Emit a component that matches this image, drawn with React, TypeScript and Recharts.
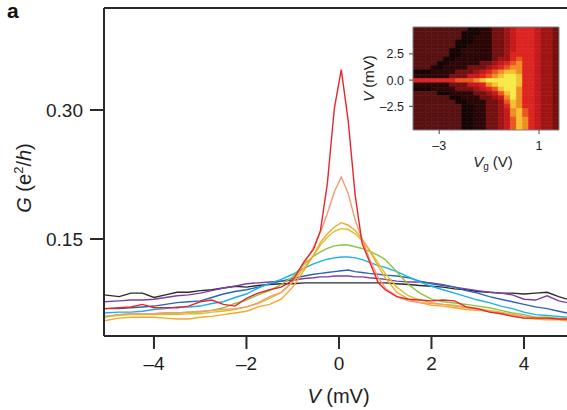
import React from 'react';
import { LineChart, Line, XAxis, YAxis, ComposedChart, ReferenceArea, ReferenceLine } from 'recharts';

// bias voltage V (mV) where the traces are sampled
const V_BIAS = [
  -5.08, -4.75, -4.5, -4.25, -4, -3.75, -3.5, -3.25, -3, -2.75, -2.5, -2.25, -2, -1.75, -1.5,
  -1.25, -1, -0.75, -0.55, -0.4, -0.25, -0.1, 0.05, 0.2, 0.35, 0.5, 0.65, 0.85, 1, 1.25, 1.5,
  1.75, 2, 2.25, 2.5, 2.75, 3, 3.25, 3.5, 3.75, 4, 4.25, 4.5, 4.75, 4.93,
];

// conductance G (e^2/h), one trace per gate voltage
const G_BLACK = [
  0.085, 0.083, 0.087, 0.087, 0.082, 0.085, 0.088, 0.088, 0.09, 0.091, 0.093, 0.095, 0.094, 0.096, 0.097,
  0.098, 0.098, 0.099, 0.099, 0.099, 0.099, 0.099, 0.099, 0.099, 0.099, 0.099, 0.099, 0.099, 0.099, 0.098, 0.097,
  0.096, 0.095, 0.094, 0.092, 0.091, 0.089, 0.088, 0.087, 0.087, 0.086, 0.087, 0.088, 0.083, 0.08,
];
const G_PURPLE = [
  0.077, 0.078, 0.079, 0.079, 0.08, 0.082, 0.084, 0.085, 0.087, 0.09, 0.093, 0.095, 0.098, 0.099, 0.1,
  0.101, 0.102, 0.104, 0.105, 0.106, 0.106, 0.107, 0.107, 0.107, 0.106, 0.106, 0.105, 0.104, 0.103, 0.101, 0.1,
  0.1, 0.099, 0.097, 0.094, 0.092, 0.09, 0.088, 0.087, 0.085, 0.08, 0.079, 0.084, 0.078, 0.076,
];
const G_BLUE = [
  0.069, 0.069, 0.07, 0.071, 0.072, 0.074, 0.076, 0.077, 0.078, 0.082, 0.086, 0.089, 0.091, 0.094, 0.098,
  0.101, 0.104, 0.107, 0.109, 0.11, 0.111, 0.112, 0.113, 0.114, 0.112, 0.111, 0.11, 0.109, 0.108, 0.107, 0.105,
  0.101, 0.098, 0.096, 0.094, 0.09, 0.087, 0.083, 0.08, 0.077, 0.074, 0.071, 0.069, 0.066, 0.064,
];
const G_CYAN = [
  0.064, 0.065, 0.065, 0.066, 0.068, 0.069, 0.071, 0.071, 0.072, 0.075, 0.077, 0.082, 0.086, 0.093, 0.098,
  0.103, 0.109, 0.116, 0.121, 0.124, 0.1265, 0.128, 0.129, 0.129, 0.128, 0.126, 0.123, 0.119, 0.117, 0.112, 0.106,
  0.1, 0.095, 0.091, 0.087, 0.083, 0.079, 0.076, 0.072, 0.069, 0.065, 0.062, 0.061, 0.06, 0.059,
];
const G_GREEN = [
  0.059, 0.062, 0.063, 0.063, 0.063, 0.064, 0.064, 0.065, 0.065, 0.067, 0.07, 0.075, 0.079, 0.085, 0.09,
  0.097, 0.106, 0.121, 0.13, 0.135, 0.139, 0.142, 0.143, 0.143, 0.141, 0.139, 0.136, 0.131, 0.126, 0.112, 0.097,
  0.087, 0.08, 0.077, 0.0756, 0.074, 0.072, 0.07, 0.067, 0.064, 0.062, 0.059, 0.059, 0.058, 0.058,
];
const G_YELLOW = [
  0.06, 0.061, 0.062, 0.062, 0.062, 0.062, 0.062, 0.063, 0.063, 0.065, 0.066, 0.068, 0.071, 0.075, 0.081,
  0.088, 0.1, 0.117, 0.131, 0.143, 0.152, 0.159, 0.162, 0.161, 0.156, 0.148, 0.138, 0.122, 0.11, 0.094, 0.084,
  0.079, 0.076, 0.074, 0.073, 0.071, 0.069, 0.067, 0.065, 0.062, 0.06, 0.058, 0.057, 0.057, 0.057,
];
const G_GOLD = [
  0.055, 0.058, 0.059, 0.059, 0.059, 0.058, 0.057, 0.057, 0.059, 0.06, 0.062, 0.064, 0.066, 0.071, 0.074,
  0.08, 0.094, 0.114, 0.131, 0.146, 0.156, 0.164, 0.169, 0.166, 0.16, 0.15, 0.138, 0.118, 0.105, 0.088, 0.08,
  0.076, 0.073, 0.072, 0.07, 0.068, 0.067, 0.066, 0.064, 0.061, 0.058, 0.057, 0.056, 0.056, 0.055,
];
const G_SALMON = [
  0.06, 0.062, 0.063, 0.063, 0.063, 0.064, 0.064, 0.065, 0.066, 0.067, 0.068, 0.069, 0.071, 0.0756, 0.083,
  0.088, 0.1, 0.122, 0.14, 0.158, 0.18, 0.205, 0.222, 0.203, 0.172, 0.15, 0.128, 0.105, 0.093, 0.083, 0.078,
  0.076, 0.075, 0.074, 0.072, 0.07, 0.068, 0.066, 0.064, 0.062, 0.06, 0.058, 0.057, 0.057, 0.057,
];
const G_RED = [
  0.069, 0.07, 0.071, 0.074, 0.07, 0.07, 0.07, 0.072, 0.077, 0.079, 0.074, 0.072, 0.081, 0.087, 0.091,
  0.094, 0.102, 0.124, 0.138, 0.16, 0.215, 0.302, 0.347, 0.287, 0.201, 0.145, 0.125, 0.099, 0.091, 0.083, 0.08,
  0.079, 0.078, 0.079, 0.078, 0.071, 0.069, 0.065, 0.063, 0.06, 0.058, 0.058, 0.058, 0.057, 0.057,
];

const SERIES = [
  { key: 'black', color: '#2b2b2b', values: G_BLACK },
  { key: 'purple', color: '#7b3f9e', values: G_PURPLE },
  { key: 'blue', color: '#2e64b4', values: G_BLUE },
  { key: 'cyan', color: '#1cb0ea', values: G_CYAN },
  { key: 'green', color: '#8cc43c', values: G_GREEN },
  { key: 'yellow', color: '#d2c62c', values: G_YELLOW },
  { key: 'gold', color: '#f6a72a', values: G_GOLD },
  { key: 'salmon', color: '#f59a72', values: G_SALMON },
  { key: 'red', color: '#e8262a', values: G_RED },
];

// inset map: rows from V = +5 down to -5 mV, columns from Vg = -4 to 1.8 V, one char = colour level
const MAP_VG_MIN = -4.05;
const MAP_VG_STEP = 0.24375;
const MAP_V_MAX = 5.06;
const MAP_V_STEP = 0.409;
const MAP_ROWS = [
  '000000000112233456665443',
  '000000001112233456665443',
  '000000001122233456665443',
  '000000011122233456665443',
  '000000011222233456665443',
  '000000112222233456665443',
  '000000112222233466665443',
  '000001122222234467665443',
  '000011222223345678665443',
  '000112222333456788665443',
  '111222233345678998665443',
  '222222333556789AA9665443',
  '666666677789AAAAA9665443',
  '22222233355689AAA9665443',
  '111222233345679AA8665443',
  '0000112222334579A8665443',
  '0000001122233458A8665443',
  '000000011222334798665443',
  '000000001122334698665443',
  '000000001122334589765443',
  '000000001122334589765443',
  '000000001122334579865443',
  '000000001122334579865443',
  '000000001122334579865443',
];
const MAP_COLORS: Record<string, string> = {
  '0': '#581010',
  '1': '#140404',
  '2': '#2c0606',
  '3': '#741010',
  '4': '#a01414',
  '5': '#c41a1c',
  '6': '#dc2420',
  '7': '#e9561e',
  '8': '#f18c24',
  '9': '#f6c030',
  A: '#f8ea4c',
};

const FONT = "'Liberation Sans', Arial, Helvetica, sans-serif";
const INK = '#1e1e1e';
const G_MAX = 0.4186;

const rows = V_BIAS.map((v, i) => {
  const row: Record<string, number> = { v };
  SERIES.forEach((s) => (row[s.key] = s.values[i]));
  return row;
});

const cells = MAP_ROWS.flatMap((line, k) =>
  line.split('').map((c, i) => ({
    x1: MAP_VG_MIN + i * MAP_VG_STEP,
    x2: MAP_VG_MIN + (i + 1) * MAP_VG_STEP,
    y1: MAP_V_MAX - (k + 1) * MAP_V_STEP,
    y2: MAP_V_MAX - k * MAP_V_STEP,
    cx: MAP_VG_MIN + (i + 0.5) * MAP_VG_STEP,
    cy: MAP_V_MAX - (k + 0.5) * MAP_V_STEP,
    color: MAP_COLORS[c],
  })),
);

const dash = (s: string) => s.replace('-', '\u2013');

function MainXTitle(props: any) {
  const vb = props.viewBox || { x: 104, y: 336, width: 463 };
  return (
    <text x={vb.x + vb.width / 2 + 3} y={vb.y + 67} textAnchor="middle" fontSize={20} fill={INK} fontFamily={FONT}>
      <tspan fontStyle="italic">V</tspan> (mV)
    </text>
  );
}

function MainYTitle(props: any) {
  const vb = props.viewBox || { y: 8, height: 328 };
  const cx = 31;
  const cy = vb.y + vb.height / 2 + 6;
  return (
    <text x={cx} y={cy} transform={`rotate(-90 ${cx} ${cy})`} textAnchor="middle" fontSize={20} fill={INK} fontFamily={FONT}>
      <tspan fontStyle="italic">G</tspan> (e<tspan dy={-8} fontSize={13}>2</tspan>
      <tspan dy={8}>/</tspan>
      <tspan fontStyle="italic">h</tspan>)
    </text>
  );
}

function InsetXTitle(props: any) {
  const vb = props.viewBox || { x: 58, y: 110, width: 146 };
  return (
    <text x={vb.x + vb.width / 2 + 7} y={vb.y + 37} textAnchor="middle" fontSize={15} fill={INK} fontFamily={FONT}>
      <tspan fontStyle="italic">V</tspan>
      <tspan dy={3} fontSize={10}>g</tspan>
      <tspan dy={-3}> (V)</tspan>
    </text>
  );
}

function InsetYTitle(props: any) {
  const vb = props.viewBox || { y: 7, height: 103 };
  const cx = 19;
  const cy = vb.y + vb.height / 2;
  return (
    <text x={cx} y={cy} transform={`rotate(-90 ${cx} ${cy})`} textAnchor="middle" fontSize={15} fill={INK} fontFamily={FONT}>
      <tspan fontStyle="italic">V</tspan> (mV)
    </text>
  );
}

export default function App() {
  const axisStroke = { stroke: '#2a2a2a', strokeWidth: 2 };
  return (
    <div style={{ position: 'absolute', left: 0, top: 0, width: 567, height: 410, background: '#fff', overflow: 'hidden' }}>
      <LineChart width={567} height={410} data={rows} margin={{ top: 8, right: 0, bottom: 0, left: 0 }}>
        <XAxis
          dataKey="v"
          type="number"
          domain={[-5.08, 4.93]}
          allowDataOverflow
          ticks={[-4, -2, 0, 2, 4]}
          tickFormatter={(v) => dash(String(v))}
          height={74}
          tickSize={13}
          tickMargin={8}
          axisLine={axisStroke}
          tickLine={axisStroke}
          tick={{ fontSize: 19, fill: INK, fontFamily: FONT }}
          label={MainXTitle}
        />
        <YAxis
          type="number"
          domain={[0.0372, G_MAX]}
          allowDataOverflow
          ticks={[0.15, 0.3]}
          tickFormatter={(v) => Number(v).toFixed(2)}
          width={104}
          tickSize={14}
          tickMargin={7}
          axisLine={axisStroke}
          tickLine={axisStroke}
          tick={{ fontSize: 19, fill: INK, fontFamily: FONT }}
          label={MainYTitle}
        />
        <ReferenceLine y={G_MAX} stroke="#2a2a2a" strokeWidth={2} ifOverflow="visible" />
        {SERIES.map((s) => (
          <Line
            key={s.key}
            dataKey={s.key}
            type="linear"
            stroke={s.color}
            strokeWidth={1.4}
            dot={false}
            activeDot={false}
            isAnimationActive={false}
          />
        ))}
      </LineChart>

      <div style={{ position: 'absolute', left: 7, top: 0, fontFamily: FONT, fontWeight: 'bold', fontSize: 21, lineHeight: '22px', color: '#111' }}>
        a
      </div>

      <div style={{ position: 'absolute', left: 355, top: 20 }}>
        <ComposedChart width={210} height={155} data={cells} margin={{ top: 7, right: 6, bottom: 0, left: 0 }}>
          <XAxis
            dataKey="cx"
            type="number"
            domain={[-4.05, 1.8]}
            allowDataOverflow
            ticks={[-3, 1]}
            tickFormatter={(v) => dash(String(v))}
            height={45}
            tickSize={4}
            tickMargin={7}
            axisLine={false}
            tickLine={{ stroke: '#444', strokeWidth: 1 }}
            tick={{ fontSize: 12.5, fill: INK, fontFamily: FONT }}
            label={InsetXTitle}
          />
          <YAxis
            dataKey="cy"
            type="number"
            domain={[-4.756, 5.06]}
            allowDataOverflow
            ticks={[-2.5, 0, 2.5]}
            tickFormatter={(v) => dash(Number(v).toFixed(1))}
            width={58}
            tickSize={4}
            tickMargin={5}
            axisLine={false}
            tickLine={{ stroke: '#444', strokeWidth: 1 }}
            tick={{ fontSize: 12.5, fill: INK, fontFamily: FONT }}
            label={InsetYTitle}
          />
          {cells.map((c, i) => (
            <ReferenceArea
              key={i}
              x1={c.x1}
              x2={c.x2}
              y1={c.y1}
              y2={c.y2}
              fill={c.color}
              fillOpacity={1}
              stroke={c.color}
              strokeWidth={0.6}
              ifOverflow="hidden"
            />
          ))}
          <ReferenceArea x1={-4.05} x2={1.8} y1={-4.756} y2={5.06} fill="none" stroke="#808080" strokeWidth={1} ifOverflow="visible" />
        </ComposedChart>
      </div>
    </div>
  );
}
